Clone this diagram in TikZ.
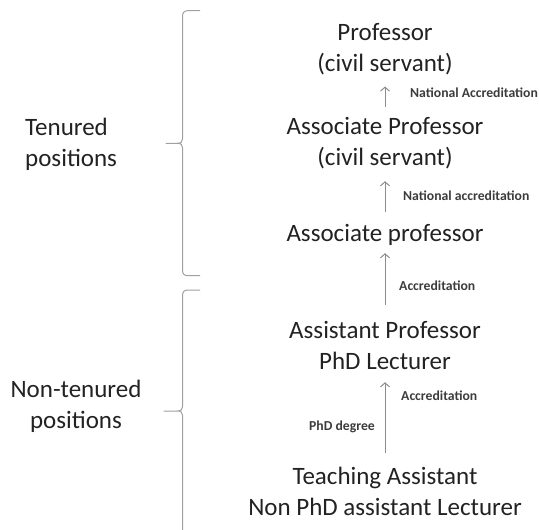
\documentclass[tikz,border=0pt]{standalone}
\usepackage{fontspec}
\setmainfont{Carlito}
\usetikzlibrary{arrows.meta}
\definecolor{txt}{HTML}{222222}
\definecolor{lbltxt}{HTML}{3C3C3C}
\definecolor{arrgray}{HTML}{8C8C8C}
\definecolor{bracegray}{HTML}{A0A0A0}
\tikzset{
  rank/.style={inner sep=0pt, align=center, text=txt,
    font=\fontsize{25bp}{31bp}\selectfont},
  group/.style={rank},
  steplabel/.style={inner sep=0pt, text=lbltxt, text height=9bp, text depth=3bp,
    font=\fontsize{13.7bp}{16bp}\selectfont\bfseries},
  promote/.style={draw=arrgray, line width=1bp, -{Straight Barb[length=4bp,width=9bp]}},
  bracket/.style={draw=bracegray, line width=1bp, line join=round}
}
\begin{document}
\begin{tikzpicture}[x=1bp, y=-1bp]
\useasboundingbox (0,0) rectangle (539,530);

% career ladder, bottom to top
\node[rank] (prof)   at (385,50.3)  {\strut Professor\\\strut (civil servant)};
\node[rank] (assocc) at (385,144.3) {\strut Associate Professor\\\strut (civil servant)};
\node[rank] (assoc)  at (385,234.8) {\strut Associate professor};
\node[rank] (asst)   at (385,347.3) {\strut Assistant Professor\\\strut PhD Lecturer};
\node[rank] (ta)     at (385,493.3) {\strut Teaching Assistant\\\strut Non PhD assistant Lecturer};

% promotions
\draw[promote] ([yshift=6bp]assocc.north) -- ([yshift=-5bp]prof.south);
\draw[promote] ([yshift=7bp]assoc.north)  -- ([yshift=-5.7bp]assocc.south);
\draw[promote] ([yshift=11bp]asst.north)  -- ([yshift=-2.7bp]assoc.south);
\draw[promote] ([yshift=9bp]ta.north)     -- ([yshift=-3.7bp]asst.south);

% promotion requirements
\node[steplabel, anchor=west] (l1) at (410,95)  {National Accreditation};
\node[steplabel, anchor=west] (l2) at (403,198) {National accreditation};
\node[steplabel, anchor=west] (l3) at (399,287) {Accreditation};
\node[steplabel, anchor=west] (l4) at (401,397) {Accreditation};
\node[steplabel, anchor=east] (l5) at (375,427) {PhD degree};

% groups
\node[group, align=left, anchor=west] (ten) at (25,145.3) {\strut Tenured\\\strut positions};
\node[group] (nten) at (76,406.3) {\strut Non-tenured\\\strut positions};

\draw[bracket] (200,10.7) -- (188,10.7) .. controls (184.5,10.7) and (182.5,12.5) .. (182.5,16)
  -- (182.5,139) .. controls (182.5,142) and (181,143.3) .. (177,143.3) -- (166,143.3)
  -- (177,143.3) .. controls (181,143.3) and (182.5,144.6) .. (182.5,147.6)
  -- (182.5,270.5) .. controls (182.5,274) and (184.5,275.7) .. (188,275.7) -- (200,275.7);
\draw[bracket] (200,290) -- (188,290) .. controls (184.5,290) and (182.5,291.8) .. (182.5,295.3)
  -- (182.5,406.7) .. controls (182.5,409.7) and (181,411) .. (177,411) -- (164,411)
  -- (177,411) .. controls (181,411) and (182.5,412.3) .. (182.5,415.3)
  -- (182.5,535);
\end{tikzpicture}
\end{document}
